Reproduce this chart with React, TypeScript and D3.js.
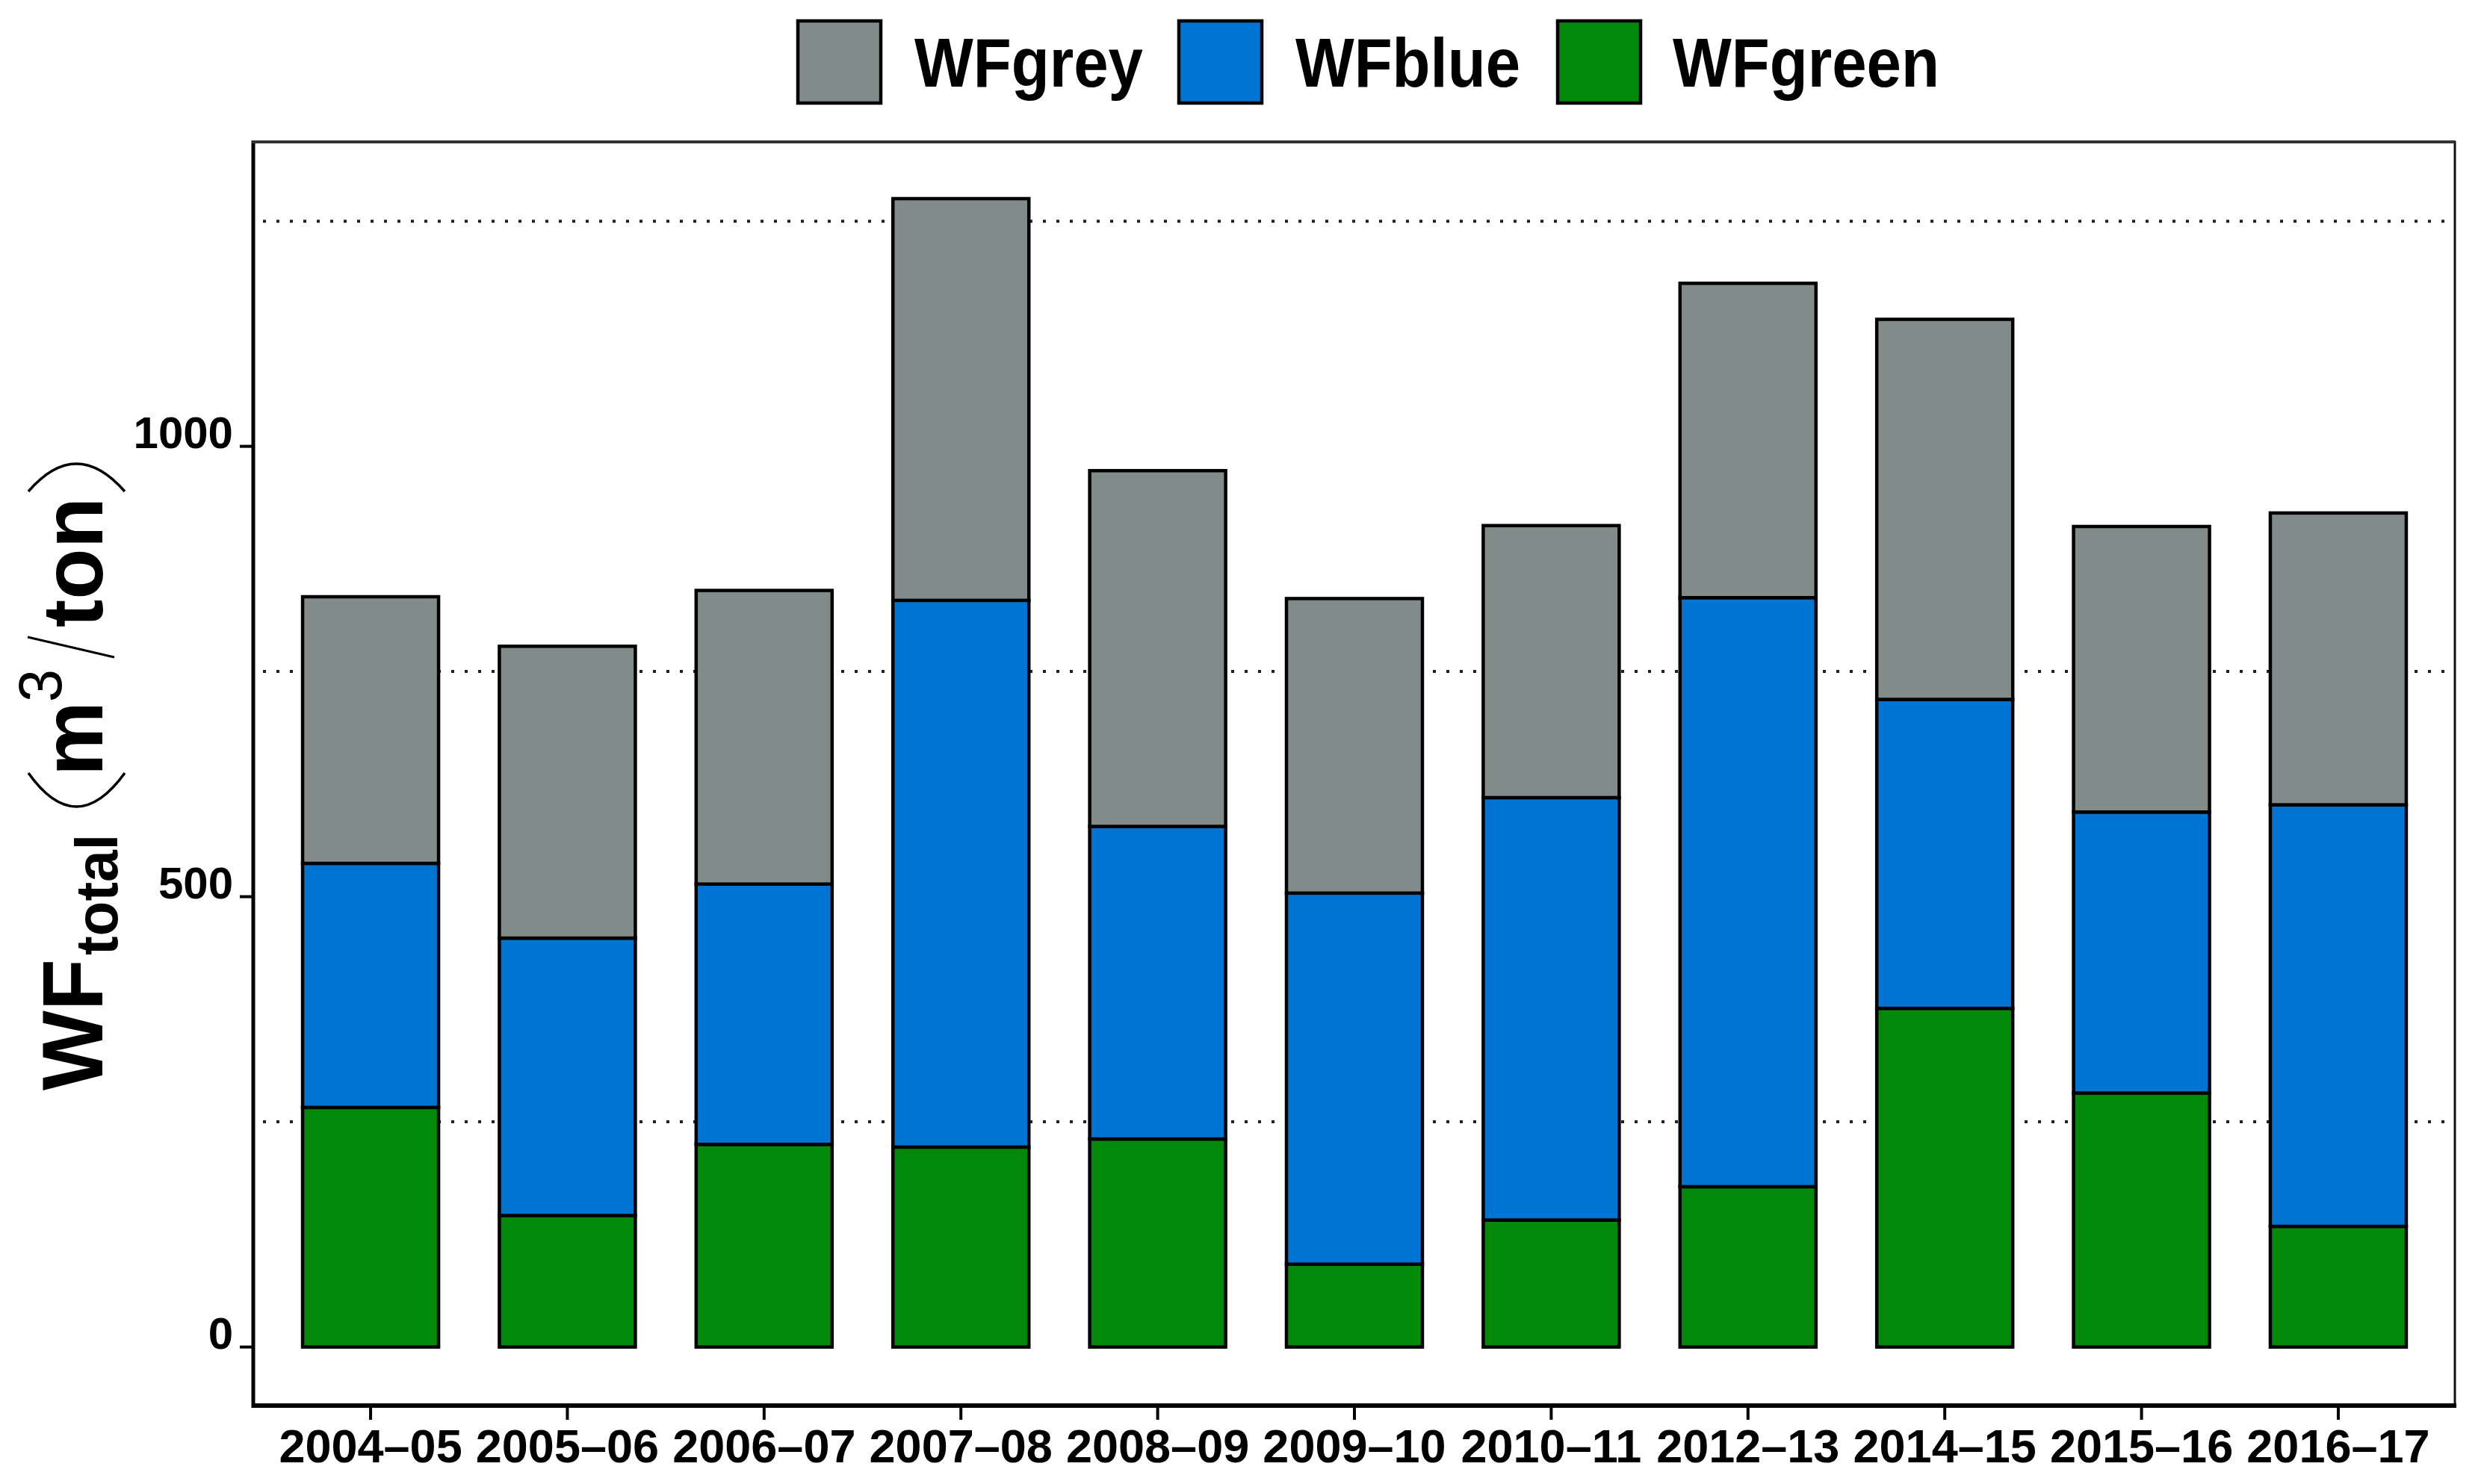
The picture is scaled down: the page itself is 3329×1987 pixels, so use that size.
import React from "react";
import * as d3 from "d3";

const categories = ["2004–05","2005–06","2006–07","2007–08","2008–09","2009–10","2010–11","2012–13","2014–15","2015–16","2016–17"];
const wfGreen = [266, 146, 225, 222, 231, 92, 141, 178, 376, 282, 134];
const wfBlue  = [271, 308, 289, 607, 347, 412, 469, 654, 343, 312, 468];
const wfGrey  = [296, 324, 326, 446, 395, 327, 302, 349, 422, 317, 324];
const yTicks = [0, 500, 1000];
const yGrid = [250, 750, 1250];
const seriesKeys = ["WFgreen", "WFblue", "WFgrey"];
const legendKeys = ["WFgrey", "WFblue", "WFgreen"];
const colors: Record<string, string> = { WFgrey: "#818B89", WFblue: "#0074D2", WFgreen: "#03890A" };

const W = 3329, H = 1987;
const plot = { left: 339, right: 3286, top: 190, bottom: 1882 };
const FONT = "'Liberation Sans', Arial, Helvetica, sans-serif";

export default function App() {
  const rows = categories.map((c, i) => ({ cat: c, WFgreen: wfGreen[i], WFblue: wfBlue[i], WFgrey: wfGrey[i] }));
  const stacked = d3.stack<any>().keys(seriesKeys)(rows);
  const p = 0.309;
  const x = d3.scaleBand<string>().domain(categories).range([364.35, 3261.65]).paddingInner(p).paddingOuter(p / 2);
  const y = d3.scaleLinear().domain([-65, 1338]).range([plot.bottom, plot.top]);

  const legendPos = [
    { key: "WFgrey", bx: 1068, tx: 1224, tl: 306 },
    { key: "WFblue", bx: 1578, tx: 1734, tl: 301 },
    { key: "WFgreen", bx: 2085, tx: 2239, tl: 357 },
  ];

  return (
    <svg width={W} height={H} style={{ position: "absolute", left: 0, top: 0, background: "#fff" }} fontFamily={FONT}>
      <rect x={0} y={0} width={W} height={H} fill="#fff" />
      {/* legend */}
      {legendKeys.map((k, i) => {
        const lp = legendPos[i];
        return (
          <g key={k}>
            <rect x={lp.bx} y={28} width={111} height={110} fill={colors[k]} stroke="#000" strokeWidth={4.5} />
            <text x={lp.tx} y={116} fontSize={92} fontWeight="bold" textLength={lp.tl} lengthAdjust="spacingAndGlyphs">{k}</text>
          </g>
        );
      })}
      {/* dotted grid */}
      {yGrid.map((g) => (
        <line key={g} x1={352} x2={plot.right} y1={y(g)} y2={y(g)} stroke="#222" strokeWidth={4} strokeDasharray="4,14" />
      ))}
      {/* bars */}
      {stacked.map((s) => (
        <g key={s.key}>
          {s.map((d: any, i: number) => (
            <rect key={i} x={x(categories[i])!} width={x.bandwidth()} y={y(d[1])} height={y(d[0]) - y(d[1])}
              fill={colors[s.key]} stroke="#000" strokeWidth={4.5} />
          ))}
        </g>
      ))}
      {/* frame */}
      <rect x={plot.left} y={plot.top} width={plot.right - plot.left} height={plot.bottom - plot.top} fill="none" stroke="#111" strokeWidth={3} />
      <line x1={plot.left} x2={plot.left} y1={plot.top - 2} y2={plot.bottom + 3} stroke="#000" strokeWidth={5} />
      <line x1={plot.left - 2} x2={plot.right + 2} y1={plot.bottom} y2={plot.bottom} stroke="#000" strokeWidth={6} />
      <line x1={plot.left - 2} x2={plot.right} y1={plot.top} y2={plot.top} stroke="#333" strokeWidth={4} />
      {/* y ticks */}
      {yTicks.map((t) => (
        <g key={t}>
          <line x1={321} x2={plot.left} y1={y(t)} y2={y(t)} stroke="#000" strokeWidth={4} />
          <text x={312} y={y(t) + 2} textAnchor="end" fontSize={60} fontWeight="bold">{t}</text>
        </g>
      ))}
      {/* x ticks */}
      {categories.map((c) => {
        const cx = x(c)! + x.bandwidth() / 2;
        return (
          <g key={c}>
            <line x1={cx} x2={cx} y1={plot.bottom} y2={1901} stroke="#000" strokeWidth={4} />
            <text x={cx} y={1958} textAnchor="middle" fontSize={63} fontWeight="bold">{c}</text>
          </g>
        );
      })}
      {/* y axis title */}
      <g transform="translate(137,0) rotate(-90)">
        <text x={-1460} y={0} fontSize={115} fontWeight="bold" textLength={176} lengthAdjust="spacingAndGlyphs">WF</text>
        <text x={-1279} y={20} fontSize={80} fontWeight="bold" textLength={162} lengthAdjust="spacingAndGlyphs">total</text>
        <text x={-1039} y={0} fontSize={115} fontWeight="bold" textLength={100} lengthAdjust="spacingAndGlyphs">m</text>
        <text x={-940} y={-55} fontSize={82} textLength={44} lengthAdjust="spacingAndGlyphs">3</text>
        <text x={-840} y={0} fontSize={115} fontWeight="bold" textLength={174} lengthAdjust="spacingAndGlyphs">ton</text>
      </g>
      <path d="M38,1035 Q102,1125 167,1035" fill="none" stroke="#000" strokeWidth={3.5} />
      <path d="M38,658 Q102,584 167,658" fill="none" stroke="#000" strokeWidth={3.5} />
      <path d="M153,880 L37,853" fill="none" stroke="#000" strokeWidth={3} />
    </svg>
  );
}
